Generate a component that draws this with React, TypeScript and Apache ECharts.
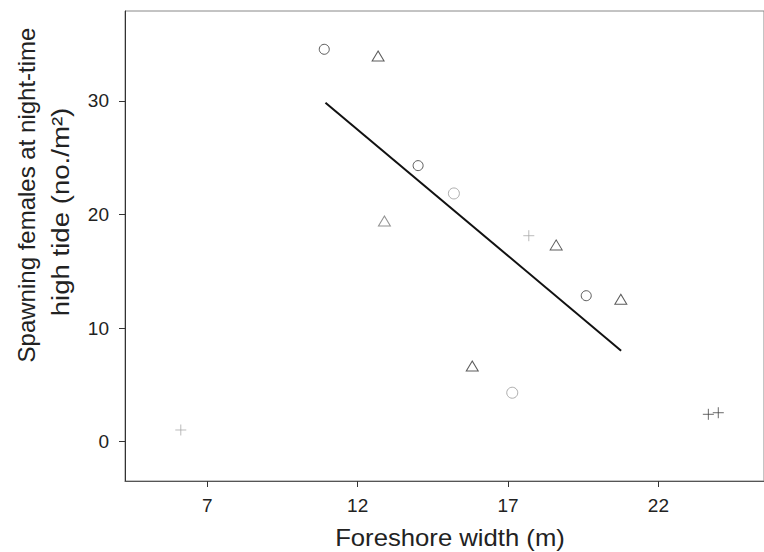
import React, { useEffect, useRef } from "react";
import * as echarts from "echarts";

// Foreshore width (m), spawning females (no./m2)
const circlesDark: number[][] = [
  [10.89, 34.54],
  [14.01, 24.3],
  [19.6, 12.85],
];
const circlesGray: number[][] = [
  [15.2, 21.85],
  [17.14, 4.31],
];
const trianglesDark: number[][] = [
  [12.68, 33.95],
  [18.6, 17.32],
  [20.75, 12.54],
  [15.81, 6.66],
];
const trianglesGray: number[][] = [[12.89, 19.43]];
const plusDark: number[][] = [
  [23.66, 2.41],
  [23.99, 2.55],
];
const plusGray: number[][] = [
  [6.12, 1.03],
  [17.69, 18.13],
];
const fitLine: number[][] = [
  [10.93, 29.84],
  [20.76, 8.01],
];
const xTicks = [7, 12, 17, 22];
const yTicks = [0, 10, 20, 30];

const PLUS = "path://M0,5L10,5M5,0L5,10";
const FONT = "Liberation Sans, Arial, sans-serif";

export default function App() {
  const ref = useRef<HTMLDivElement>(null);
  useEffect(() => {
    if (!ref.current) return;
    const chart = echarts.init(ref.current, undefined, { renderer: "svg" });
    const hollow = (c: string) => ({
      color: "rgba(0,0,0,0)",
      borderColor: c,
      borderWidth: 1,
    });
    const scatter = (data: number[][], symbol: string, size: any, c: string) => ({
      type: "scatter",
      data,
      symbol,
      symbolSize: size,
      itemStyle: hollow(c),
      z: 3,
    });
    chart.setOption({
      animation: false,
      backgroundColor: "#fff",
      grid: {
        left: 125,
        top: 11,
        right: -2,
        bottom: 71,
        show: true,
        borderColor: "#888",
        borderWidth: 1,
      },
      xAxis: {
        type: "value",
        min: 4.265,
        max: 25.51,
        splitLine: { show: false },
        axisLine: { show: true, onZero: false, lineStyle: { color: "#555", width: 1 } },
        axisTick: {
          show: true,
          length: 6,
          customValues: xTicks,
          lineStyle: { color: "#333" },
        },
        axisLabel: {
          customValues: xTicks,
          fontSize: 19,
          color: "#222",
          fontFamily: FONT,
          margin: 15,
        },
      },
      yAxis: {
        type: "value",
        min: -3.46,
        max: 37.91,
        splitLine: { show: false },
        axisLine: { show: true, onZero: false, lineStyle: { color: "#333", width: 1 } },
        axisTick: {
          show: true,
          length: 6,
          customValues: yTicks,
          lineStyle: { color: "#333" },
        },
        axisLabel: {
          customValues: yTicks,
          fontSize: 19,
          color: "#222",
          fontFamily: FONT,
          margin: 16,
        },
      },
      graphic: [
        {
          type: "text",
          x: 450,
          y: 538,
          scaleX: 1.07,
          style: {
            text: "Foreshore width (m)",
            fontSize: 24,
            fontFamily: FONT,
            fill: "#222",
            align: "center",
            verticalAlign: "middle",
          },
        },
        {
          type: "text",
          x: 26,
          y: 195,
          rotation: Math.PI / 2,
          style: {
            text: "Spawning females at night-time",
            fontSize: 24,
            fontFamily: FONT,
            fill: "#222",
            align: "center",
            verticalAlign: "middle",
          },
        },
        {
          type: "text",
          x: 61,
          y: 212,
          rotation: Math.PI / 2,
          scaleX: 1.15,
          style: {
            text: "high tide (no./m²)",
            fontSize: 24,
            fontFamily: FONT,
            fill: "#222",
            align: "center",
            verticalAlign: "middle",
          },
        },
      ],
      series: [
        {
          type: "line",
          data: fitLine,
          symbol: "none",
          lineStyle: { color: "#111", width: 2 },
          z: 2,
        },
        scatter(circlesDark, "circle", 10, "#333"),
        scatter(circlesGray, "circle", 11, "#999"),
        scatter(trianglesDark, "triangle", [12, 10], "#333"),
        scatter(trianglesGray, "triangle", [12, 10], "#777"),
        scatter(plusDark, PLUS, 11, "#444"),
        scatter(plusGray, PLUS, 11, "#aaa"),
      ],
    });
    return () => chart.dispose();
  }, []);
  return (
    <div
      ref={ref}
      style={{ position: "fixed", left: 0, top: 0, width: 764, height: 552 }}
    />
  );
}
